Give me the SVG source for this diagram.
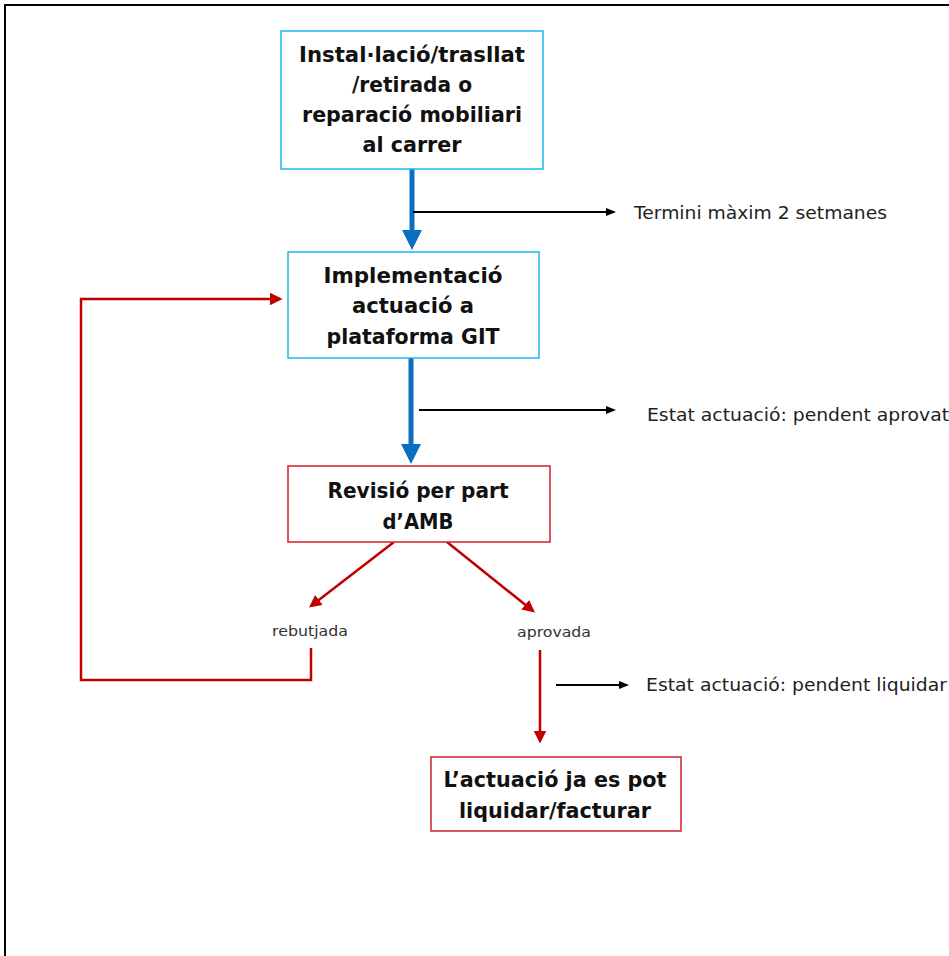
<svg xmlns="http://www.w3.org/2000/svg" width="949" height="956" viewBox="0 0 949 956">
<defs>
<style>
.bg{fill:#fff}
.frame{fill:none;stroke:#000;stroke-width:2}
.bbox{fill:#fff;stroke:#1fb4ef;stroke-width:1.5}
.rbox{fill:#fff;stroke:#d0202a;stroke-width:1.5}
.t{font-family:"DejaVu Sans","Liberation Sans",sans-serif;font-weight:bold;font-size:22px;fill:#111;text-anchor:middle}
.n{font-family:"DejaVu Sans","Liberation Sans",sans-serif;font-size:18px;fill:#222}
.s{font-family:"DejaVu Sans","Liberation Sans",sans-serif;font-size:14px;fill:#333;text-anchor:middle}
.blue{stroke:#0a6fc2;stroke-width:5;fill:none}
.red{stroke:#c00000;stroke-width:2.5;fill:none}
.blk{stroke:#000;stroke-width:2;fill:none}
</style>
<marker id="mb" markerWidth="4" markerHeight="4" refX="2" refY="2" orient="auto" markerUnits="strokeWidth" viewBox="0 0 4 4"><path d="M0,0L4,2L0,4z" fill="#0a6fc2"/></marker>
<marker id="mr" markerWidth="5" markerHeight="5" refX="4" refY="2.5" orient="auto" markerUnits="strokeWidth" viewBox="0 0 5 5"><path d="M0,0L5,2.5L0,5z" fill="#c00000"/></marker>
<marker id="mk" markerWidth="5" markerHeight="5" refX="4" refY="2.5" orient="auto" markerUnits="strokeWidth" viewBox="0 0 5 5"><path d="M0,0.5L5,2.5L0,4.5z" fill="#000"/></marker>
</defs>
<rect class="bg" x="0" y="0" width="949" height="956"/>
<path class="frame" d="M5,960V5H960"/>
<g id="connectors">
<path class="blue" d="M412,169V240" marker-end="url(#mb)"/>
<path class="blk" d="M413,212H614" marker-end="url(#mk)"/>
<path class="blue" d="M411,358V454" marker-end="url(#mb)"/>
<path class="blk" d="M419,410H614" marker-end="url(#mk)"/>
<path class="red" d="M394,542L311,606" marker-end="url(#mr)"/>
<path class="red" d="M447,542L533,611" marker-end="url(#mr)"/>
<path class="red" d="M311,648V680H81V299H280" marker-end="url(#mr)"/>
<path class="red" d="M540,650V741" marker-end="url(#mr)"/>
<path class="blk" d="M556,685H627" marker-end="url(#mk)"/>
</g>
<g id="n1">
<rect class="bbox" x="281" y="31" width="262" height="138"/>
<text class="t" x="412" y="62" textLength="226" lengthAdjust="spacingAndGlyphs">Instal·lació/trasllat</text>
<text class="t" x="412" y="92" textLength="120" lengthAdjust="spacingAndGlyphs">/retirada o</text>
<text class="t" x="412" y="122" textLength="220" lengthAdjust="spacingAndGlyphs">reparació mobiliari</text>
<text class="t" x="412" y="152" textLength="99" lengthAdjust="spacingAndGlyphs">al carrer</text>
</g>
<g id="n2">
<rect class="bbox" x="288" y="252" width="251" height="106"/>
<text class="t" x="413" y="283" textLength="179" lengthAdjust="spacingAndGlyphs">Implementació</text>
<text class="t" x="413" y="313" textLength="122" lengthAdjust="spacingAndGlyphs">actuació a</text>
<text class="t" x="413" y="344" textLength="173" lengthAdjust="spacingAndGlyphs">plataforma GIT</text>
</g>
<g id="n3">
<rect class="rbox" x="288" y="466" width="262" height="76"/>
<text class="t" x="418" y="498" textLength="181" lengthAdjust="spacingAndGlyphs">Revisió per part</text>
<text class="t" x="418" y="529" textLength="71" lengthAdjust="spacingAndGlyphs">d’AMB</text>
</g>
<g id="n4">
<rect class="rbox" x="431" y="757" width="250" height="74"/>
<text class="t" x="555" y="787" textLength="223" lengthAdjust="spacingAndGlyphs">L’actuació ja es pot</text>
<text class="t" x="555" y="818" textLength="192" lengthAdjust="spacingAndGlyphs">liquidar/facturar</text>
</g>
<g id="labels">
<text class="n" x="634" y="219" textLength="253" lengthAdjust="spacingAndGlyphs">Termini màxim 2 setmanes</text>
<text class="n" x="647" y="421" textLength="302" lengthAdjust="spacingAndGlyphs">Estat actuació: pendent aprovat</text>
<text class="n" x="646" y="691" textLength="301" lengthAdjust="spacingAndGlyphs">Estat actuació: pendent liquidar</text>
<text class="s" x="310" y="636" textLength="76" lengthAdjust="spacingAndGlyphs">rebutjada</text>
<text class="s" x="554" y="637" textLength="74" lengthAdjust="spacingAndGlyphs">aprovada</text>
</g>
</svg>
